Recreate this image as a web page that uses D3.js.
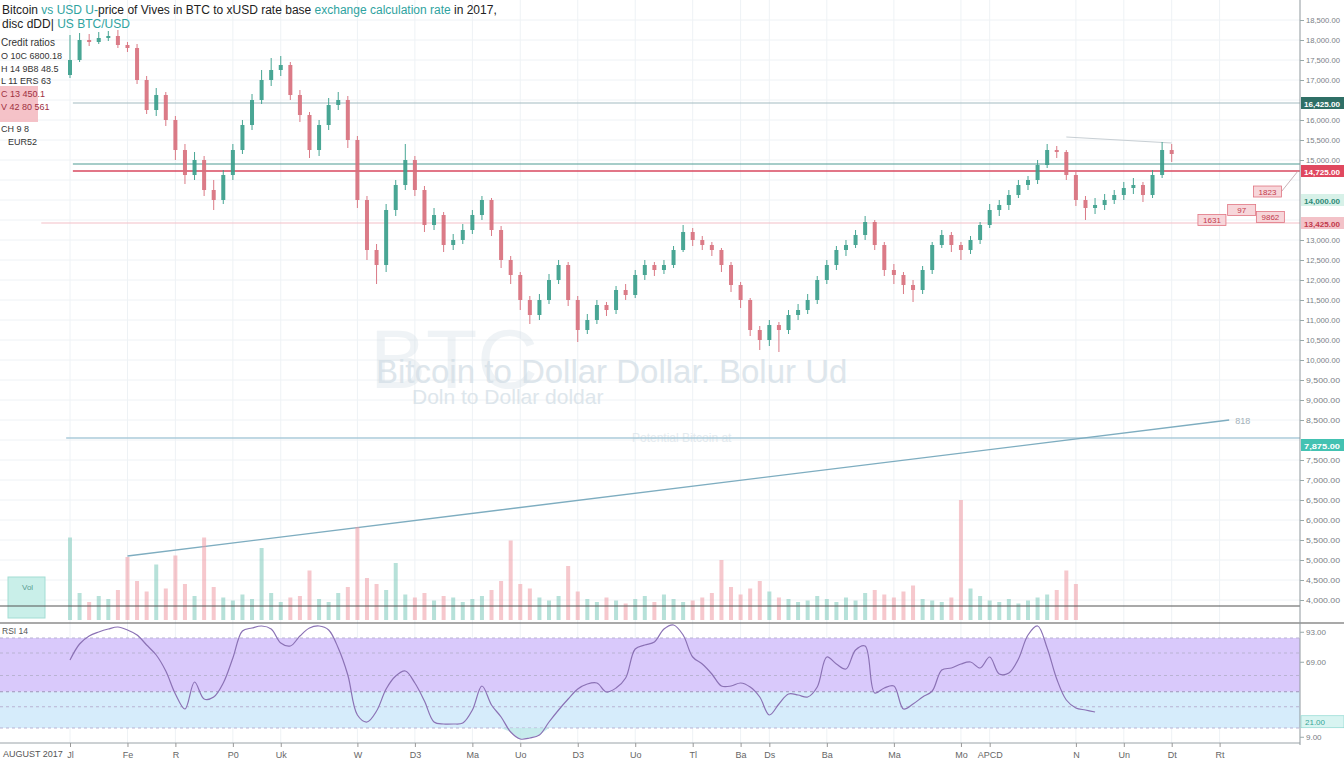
<!DOCTYPE html>
<html>
<head>
<meta charset="utf-8">
<script src="https://cdn.jsdelivr.net/npm/d3@7"></script>
<style>
  body { margin: 0; background: #fff; font-family: "Liberation Sans", Arial, sans-serif; }
  svg text { font-family: "Liberation Sans", Arial, sans-serif; }
</style>
</head>
<body>
<script>
// ---- data ----
// [open, high, low, close]
var candles = [
  [17125,18125,17050,17500],[17500,18175,17450,18000],[18000,18150,17850,17950],[17950,18200,17900,18050],
  [18050,18225,17975,18100],[18100,18250,17800,17875],[17875,17950,17700,17800],[17800,17900,16900,17000],
  [17000,17100,16150,16250],[16250,16800,16100,16625],[16625,16700,15850,16000],[16000,16100,15000,15250],
  [15250,15400,14400,14625],[14625,15200,14500,15000],[15000,15100,14100,14250],[14250,14500,13750,14000],
  [14000,14750,13900,14625],[14625,15400,14500,15250],[15250,16000,15150,15875],[15875,16650,15750,16500],
  [16500,17250,16400,17000],[17000,17550,16850,17250],[17250,17600,17100,17375],[17375,17450,16500,16625],
  [16625,16750,15950,16125],[16125,16200,15050,15250],[15250,16000,15100,15875],[15875,16550,15750,16375],
  [16375,16700,16250,16500],[16500,16600,15300,15500],[15500,15600,13800,14000],[14000,14100,12500,12750],
  [12750,12900,11900,12375],[12375,13900,12200,13750],[13750,14500,13600,14375],[14375,15400,14250,15000],
  [15000,15100,14100,14250],[14250,14350,13200,13375],[13375,13800,13250,13625],[13625,13700,12700,12875],
  [12875,13150,12750,13000],[13000,13400,12900,13250],[13250,13750,13150,13625],[13625,14100,13500,14000],
  [14000,14050,13100,13250],[13250,13350,12300,12500],[12500,12600,11900,12125],[12125,12200,11250,11500],
  [11500,11600,10900,11125],[11125,11650,11000,11500],[11500,12150,11400,12000],[12000,12500,11900,12375],
  [12375,12450,11350,11500],[11500,11600,10450,10750],[10750,11150,10650,11000],[11000,11500,10900,11375],
  [11375,11450,11100,11250],[11250,11850,11150,11750],[11750,11900,11500,11625],[11625,12250,11550,12125],
  [12125,12500,12000,12375],[12375,12450,12100,12250],[12250,12500,12150,12375],[12375,12850,12300,12750],
  [12750,13375,12700,13200],[13200,13300,12850,13000],[13000,13100,12750,12875],[12875,12950,12600,12750],
  [12750,12800,12200,12375],[12375,12450,11700,11875],[11875,11950,11300,11500],[11500,11550,10600,10750],
  [10750,10850,10250,10500],[10500,11000,10350,10875],[10875,10950,10200,10750],[10750,11250,10650,11125],
  [11125,11400,11000,11250],[11250,11650,11150,11500],[11500,12100,11400,12000],[12000,12500,11900,12375],
  [12375,12850,12250,12750],[12750,13000,12600,12875],[12875,13250,12800,13125],[13125,13600,13000,13450],
  [13450,13500,12750,12875],[12875,12950,12100,12250],[12250,12400,11900,12125],[12125,12200,11650,11875],
  [11875,12000,11450,11750],[11750,12350,11650,12250],[12250,12950,12150,12875],[12875,13250,12800,13125],
  [13125,13200,12700,12875],[12875,12950,12500,12750],[12750,13100,12650,13000],[13000,13450,12900,13375],
  [13375,13900,13300,13750],[13750,14000,13600,13875],[13875,14250,13750,14125],[14125,14500,14050,14375],
  [14375,14600,14250,14500],[14500,15000,14400,14875],[14875,15400,14800,15250],[15250,15350,15050,15200],
  [15200,15250,14500,14625],[14625,14700,13850,14000],[14000,14100,13500,13800],[13800,14050,13650,13875],
  [13875,14150,13750,14000],[14000,14250,13900,14125],[14125,14450,14000,14300],[14300,14550,14150,14375],
  [14375,14450,13950,14125],[14125,14750,14050,14625],[14625,15450,14550,15250],[15250,15400,14950,15150]
];

var volumes = [
  550,180,120,160,140,200,420,260,190,370,210,430,240,160,550,220,150,130,170,140,
  480,180,120,150,160,330,140,120,180,220,620,280,240,200,380,170,150,180,130,160,
  150,120,140,160,200,260,530,240,210,150,130,160,360,190,140,120,150,130,110,140,
  160,120,170,140,120,130,150,180,400,220,170,210,260,190,150,140,120,130,160,140,
  120,150,130,180,200,170,150,190,230,140,130,120,150,800,210,160,130,120,140,110,
  130,150,170,200,330,240
];

var rsi = [
  70.4,83.2,89.6,92.8,95.2,96.8,94.4,90.4,82.4,74.4,61.6,43.2,31.2,52.8,39.2,40.8,52,72,93.6,96,
  97.6,95.2,84,81.6,89.6,96,97.6,94.4,80,58.4,26.4,20.8,29.6,47.2,57.6,61.6,52,37.6,20.8,19.2,
  19.2,20,30.4,49.6,34.4,24.8,12.8,7.2,8,10.4,20.8,30.4,39.2,47.2,51.2,52,44.8,48,56,79.2,
  82.4,84.8,95.2,98.4,90.4,72.8,67.2,59.2,49.6,49.6,52,48.8,40.8,26.4,35.2,43.2,42.4,40.8,48.8,72.8,
  67.2,63.2,78.4,81.6,44,48,49.6,31.2,35.2,40.8,45.6,62.4,64,67.2,68.8,64,72.8,59.2,60,71.2,
  90.4,97.6,80,55.2,38.4,32,30.4,28.8
];

var priceTicks = [4000,4500,5000,5500,6000,6500,7000,7500,8000,8500,9000,9500,10000,10500,11000,
  11500,12000,12500,13000,13500,14000,14500,15000,15500,16000,16500,17000,17500,18000,18500];

var xTickIdx = [0,6,11,17,22,30,36,42,47,53,59,65,70,73,79,86,93,96,105,110,115,120];
var xTickLabels = ["Jl","Fe","R","P0","Uk","W","D3","Ma","Uo","D3","Uo","Tl","Ba","Ds","Ba","Ma","Mo","APCD","N","Un","Dt","Rt"];

var levelPrices = [16425, 14900, 14725, 13425, 8050];
var levelStart = [0.3, 0.3, 0.3, -3, -0.4];

var trendIdx = [6, 121];
var trendPrices = [5100, 8500];
var topTrendIdx = [104, 115];
var topTrendPrices = [15575, 15425];

var annIdx = [125, 122.3, 125.3, 119.2];
var annPrices = [14212, 13750, 13575, 13500];
var annTexts = ["1823", "97", "9862", "1631"];

var tagPrices = [16425, 14725, 14000, 13425, 7875];

var rsiLevels = [88, 76, 58, 45, 33, 16];
var rsiTicks = [93, 69, 9];
var rsiTagValue = 21;

var legendLines = ["Credit ratios", "O 10C 6800.18", "H 14 9B8 48.5", "L 11 ERS 63", "C 13 450.1", "V 42 80 561", "CH 9 8", "EUR52"];

// ---- layout ----
var width = 1344, height = 768;
var axisX = 1300;

var svg = d3.select("body").append("svg")
  .attr("width", width).attr("height", height);

var x = d3.scaleLinear().domain([0, 128]).range([70, 70 + 9.58 * 128]);
var y = d3.scaleLinear().domain([4000, 18625]).range([600, 15]);
var yVol = d3.scaleLinear().domain([0, 1000]).range([620, 470]);
var yRsi = d3.scaleLinear().domain([0, 100]).range([748, 623]);

// grid
svg.append("g").selectAll("line").data(priceTicks).enter().append("line")
  .attr("x1", 0).attr("x2", axisX)
  .attr("y1", function (d) { return y(d) }).attr("y2", function (d) { return y(d) })
  .style("stroke", "#eef2f5").style("stroke-width", 1);

svg.append("g").selectAll("line").data(xTickIdx).enter().append("line")
  .attr("x1", function (d) { return x(d) }).attr("x2", function (d) { return x(d) })
  .attr("y1", 0).attr("y2", 743)
  .style("stroke", "#eef2f5").style("stroke-width", 1);

// watermark
var wm = svg.append("g").style("fill", "#d3dee6");
wm.append("text").attr("x", 370).attr("y", 388).style("font-size", "84px").style("opacity", 0.35).text("BTC");
wm.append("text").attr("x", 376).attr("y", 383).style("font-size", "33px").style("opacity", 0.75)
  .text("Bitcoin to Dollar Dollar. Bolur Ud");
wm.append("text").attr("x", 412).attr("y", 404).style("font-size", "21px").style("opacity", 0.75).text("Doln to Dollar doldar");
wm.append("text").attr("x", 632).attr("y", 442).style("font-size", "12px").style("opacity", 0.6).text("Potential Bitcoin at");

// level lines
var levelColors = ["#a3bcc2", "#4f9c93", "#d9485f", "#f4c0c7", "#abcbda"];
var levelWidths = [1.2, 1.2, 1.5, 1.2, 1.5];
svg.append("g").selectAll("line").data(levelPrices).enter().append("line")
  .attr("x1", function (d, i) { return x(levelStart[i]) })
  .attr("x2", axisX)
  .attr("y1", function (d) { return y(d) }).attr("y2", function (d) { return y(d) })
  .style("stroke", function (d, i) { return levelColors[i] })
  .style("stroke-width", function (d, i) { return levelWidths[i] });

// trend lines
svg.append("line")
  .attr("x1", x(trendIdx[0])).attr("y1", y(trendPrices[0]))
  .attr("x2", x(trendIdx[1])).attr("y2", y(trendPrices[1]))
  .style("stroke", "#7eadc0").style("stroke-width", 1.3);
svg.append("text").attr("x", x(trendIdx[1]) + 6).attr("y", y(trendPrices[1]) + 4)
  .style("font-size", "9px").style("fill", "#a3b1b9").text("818");
svg.append("line")
  .attr("x1", x(topTrendIdx[0])).attr("y1", y(topTrendPrices[0]))
  .attr("x2", x(topTrendIdx[1])).attr("y2", y(topTrendPrices[1]))
  .style("stroke", "#c8cfd4").style("stroke-width", 1);
svg.append("line")
  .attr("x1", x(annIdx[0]) + 14).attr("y1", y(annPrices[0]))
  .attr("x2", axisX - 2).attr("y2", y(levelPrices[2]))
  .style("stroke", "#b9a0a6").style("stroke-width", 0.8);

// volume
svg.append("g").selectAll("rect").data(volumes).enter().append("rect")
  .attr("x", function (d, i) { return x(i) - 2 })
  .attr("width", 4)
  .attr("y", function (d) { return yVol(d) })
  .attr("height", function (d) { return 620 - yVol(d) })
  .style("fill", function (d, i) { return candles[i][3] >= candles[i][0] ? "#7cc9ba" : "#ee9aa4" })
  .style("opacity", 0.55);

svg.append("rect").attr("x", 8).attr("y", 577).attr("width", 37).attr("height", 41)
  .style("fill", "#c9efe9").style("stroke", "#a3ddd4");
svg.append("text").attr("x", 22).attr("y", 590).style("font-size", "8px").style("fill", "#5a9d93").text("Vol");

// candles
var cg = svg.append("g").style("opacity", 0.92);
var isUp = function (d) { return d[3] >= d[0] };
cg.selectAll("line").data(candles).enter().append("line")
  .attr("x1", function (d, i) { return x(i) }).attr("x2", function (d, i) { return x(i) })
  .attr("y1", function (d) { return y(d[1]) }).attr("y2", function (d) { return y(d[2]) })
  .style("stroke", function (d) { return isUp(d) ? "#3a9f8c" : "#d8707d" })
  .style("stroke-width", 1);
cg.selectAll("rect").data(candles).enter().append("rect")
  .attr("x", function (d, i) { return x(i) - 2 })
  .attr("width", 4)
  .attr("y", function (d) { return y(Math.max(d[0], d[3])) })
  .attr("height", function (d) { return Math.max(1, Math.abs(y(d[0]) - y(d[3]))) })
  .style("fill", function (d) { return isUp(d) ? "#3a9f8c" : "#d8707d" });

// annotation boxes
var ag = svg.append("g").selectAll("g").data(annIdx).enter().append("g")
  .attr("transform", function (d, i) { return "translate(" + x(d) + "," + y(annPrices[i]) + ")" });
ag.append("rect").attr("x", -14).attr("y", -5.5).attr("width", 28).attr("height", 11)
  .style("fill", "#f7d6da").style("stroke", "#e07582").style("stroke-width", 0.8);
ag.append("text").attr("text-anchor", "middle").attr("y", 3)
  .style("font-size", "8px").style("fill", "#c23a4c")
  .text(function (d, i) { return annTexts[i] });

// separators
svg.append("line").attr("x1", 0).attr("x2", axisX).attr("y1", 606).attr("y2", 606)
  .style("stroke", "#555").style("stroke-width", 1.2);
svg.append("line").attr("x1", 0).attr("x2", width).attr("y1", 623).attr("y2", 623)
  .style("stroke", "#555").style("stroke-width", 1.2);

// RSI panel
svg.append("rect").attr("x", 0).attr("width", axisX)
  .attr("y", yRsi(rsiLevels[0])).attr("height", yRsi(rsiLevels[3]) - yRsi(rsiLevels[0]))
  .style("fill", "#d9c9fb");
svg.append("rect").attr("x", 0).attr("width", axisX)
  .attr("y", yRsi(rsiLevels[3])).attr("height", yRsi(rsiLevels[5]) - yRsi(rsiLevels[3]))
  .style("fill", "#d6ecfb");
svg.append("g").selectAll("line").data(rsiLevels).enter().append("line")
  .attr("x1", 0).attr("x2", axisX)
  .attr("y1", function (d) { return yRsi(d) }).attr("y2", function (d) { return yRsi(d) })
  .style("stroke", function (d, i) { return i === 3 ? "#9d93b8" : "#b9b3d3" })
  .style("stroke-dasharray", "3,3").style("stroke-width", 1);

svg.append("path").datum(rsi)
  .attr("d", d3.area()
    .x(function (d, i) { return x(i) })
    .y0(yRsi(rsiLevels[5]))
    .y1(function (d) { return yRsi(Math.min(d, rsiLevels[5])) }))
  .style("fill", "#b9e6e8").style("opacity", 0.8);

svg.append("path").datum(rsi)
  .attr("d", d3.line().curve(d3.curveCatmullRom.alpha(0.5))
    .x(function (d, i) { return x(i) })
    .y(function (d) { return yRsi(d) }))
  .style("fill", "none").style("stroke", "#8b72b5").style("stroke-width", 1.2);

svg.append("text").attr("x", 2).attr("y", 634).style("font-size", "8.5px").style("fill", "#555").text("RSI 14");
svg.append("line").attr("x1", 0).attr("x2", axisX).attr("y1", 743).attr("y2", 743)
  .style("stroke", "#9aa3a8").style("stroke-width", 1);

// right axis
svg.append("line").attr("x1", axisX).attr("x2", axisX).attr("y1", 0).attr("y2", 745)
  .style("stroke", "#8f989d").style("stroke-width", 1);

var fmt = d3.format(",.2f");
var shownTicks = priceTicks.filter(function (p) {
  return tagPrices.every(function (t) { return Math.abs(y(t) - y(p)) > 10 });
});
var yAxis = svg.append("g").attr("transform", "translate(" + axisX + ",0)")
  .call(d3.axisRight(y).tickValues(shownTicks).tickSize(4).tickPadding(2).tickFormat(fmt));
yAxis.select(".domain").remove();
yAxis.selectAll("line").style("stroke", "#9aa");
yAxis.selectAll("text").style("font-size", "8px").style("fill", "#7a8085")
  .attr("textLength", 34).attr("lengthAdjust", "spacingAndGlyphs");

var rAxis = svg.append("g").attr("transform", "translate(" + axisX + ",0)")
  .call(d3.axisRight(yRsi).tickValues(rsiTicks).tickSize(4).tickPadding(2).tickFormat(fmt));
rAxis.select(".domain").remove();
rAxis.selectAll("line").style("stroke", "#9aa");
rAxis.selectAll("text").style("font-size", "8px").style("fill", "#7a8085");

// price tags on the axis
var tagFill = ["#2f6f66", "#e0485f", "#d7f1e8", "#f3c2c8", "#43c2b2"];
var tagText = ["#ffffff", "#ffffff", "#2f8a78", "#c23a4c", "#ffffff"];
var tg = svg.append("g").selectAll("g").data(tagPrices).enter().append("g")
  .attr("transform", function (d) { return "translate(" + axisX + "," + y(d) + ")" });
tg.append("rect").attr("x", 1).attr("y", -6).attr("width", 43).attr("height", 12)
  .style("fill", function (d, i) { return tagFill[i] });
tg.append("text").attr("x", 4).attr("y", 3.5)
  .style("font-size", "8px").style("font-weight", "bold")
  .style("fill", function (d, i) { return tagText[i] })
  .attr("textLength", 36).attr("lengthAdjust", "spacingAndGlyphs")
  .text(function (d) { return fmt(d) });

var rsiTag = svg.append("g").attr("transform", "translate(" + axisX + "," + yRsi(rsiTagValue) + ")");
rsiTag.append("rect").attr("x", 1).attr("y", -6).attr("width", 43).attr("height", 12)
  .style("fill", "#d8f4f1").style("stroke", "#7fd3ca").style("stroke-width", 0.6);
rsiTag.append("text").attr("x", 5).attr("y", 3.5).style("font-size", "8px").style("fill", "#35a596").text(fmt(rsiTagValue));

// bottom axis
var xAxis = svg.append("g").attr("transform", "translate(0,743)")
  .call(d3.axisBottom(x).tickValues(xTickIdx).tickSize(4).tickPadding(5)
    .tickFormat(function (d, i) { return xTickLabels[i] }));
xAxis.select(".domain").remove();
xAxis.selectAll("line").style("stroke", "#999");
xAxis.selectAll("text").style("font-size", "9px").style("fill", "#666");
svg.append("text").attr("x", 3).attr("y", 757).style("font-size", "9px").style("fill", "#555").text("AUGUST 2017");

// title
var title = svg.append("text").attr("x", 2).attr("y", 14).style("font-size", "12px").style("fill", "#222");
title.append("tspan").text("Bitcoin ");
title.append("tspan").style("fill", "#2fa3a0").text("vs USD U-");
title.append("tspan").text("price of Vives in BTC to xUSD rate base ");
title.append("tspan").style("fill", "#2fa3a0").text("exchange calculation rate");
title.append("tspan").text(" in 2017,");
var sub = svg.append("text").attr("x", 2).attr("y", 28).style("font-size", "12px").style("fill", "#222");
sub.append("tspan").text("disc dDD| ");
sub.append("tspan").style("fill", "#2fa3a0").text("US BTC/USD");

// left legend
svg.append("rect").attr("x", 0).attr("y", 86).attr("width", 38).attr("height", 36)
  .style("fill", "#f2b3ba").style("opacity", 0.8);
svg.append("g").selectAll("text").data(legendLines).enter().append("text")
  .attr("x", function (d, i) { return i === 7 ? 8 : 1 })
  .attr("y", function (d, i) { return [46, 59, 72, 84, 97, 110, 132, 145][i] })
  .style("font-size", function (d, i) { return i === 0 ? "10px" : "9px" })
  .style("fill", function (d, i) { return i === 4 || i === 5 ? "#a0303f" : "#333" })
  .text(function (d) { return d });
</script>
</body>
</html>
